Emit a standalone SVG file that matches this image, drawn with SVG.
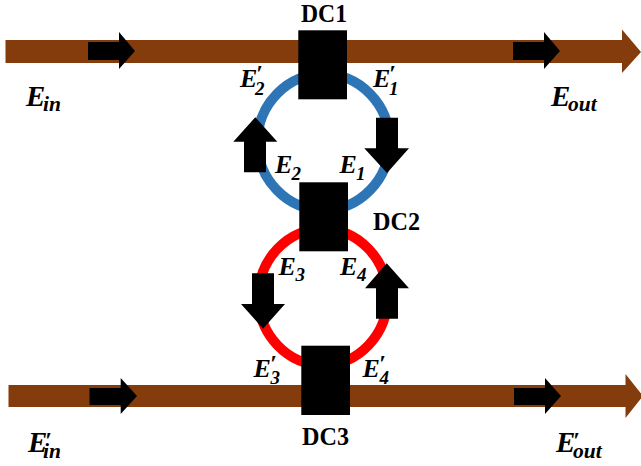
<svg xmlns="http://www.w3.org/2000/svg" width="641" height="466" viewBox="0 0 641 466">
<style>
text{font-family:"Liberation Serif","Times New Roman",serif;font-weight:bold;fill:#000}
.dc{font-size:25px}
.e{font-size:26px;font-style:italic}
.big{font-size:29px;font-style:italic}
.s{font-size:19px;font-style:italic}
.si{font-size:21.500px;font-style:italic}
.p{font-size:24px;font-style:italic}
.bar{fill:#843C0C}
.ring{fill:none;stroke-width:10}
.blk{fill:#000}
</style>
<rect width="641" height="466" fill="#fff"/>
<g id="connectors">
<path class="bar" d="M5.500 40H622V29.500L641 52L622 73V63H5.500Z"/>
<path class="bar" d="M8.500 385H625.500V374L643 396L625.500 418V407H8.500Z"/>
<ellipse class="ring" cx="323.500" cy="142" rx="66" ry="68" stroke="#2E75B6"/>
<ellipse class="ring" cx="323" cy="297" rx="64.500" ry="68" stroke="#FF0000"/>
<path class="blk" d="M88 42H119V32L135 51L119 69V60H88Z"/>
<path class="blk" d="M513 42H544V32L560 51L544 69V60H513Z"/>
<path class="blk" d="M89.500 388H120.700V378L137 396L120.700 414V405H89.500Z"/>
<path class="blk" d="M514 388H545V378L561 396L545 414V405H514Z"/>
<path class="blk" d="M244 172.300V141.700H233.300L255.300 117.300L277.300 141.700H266V172.300Z"/>
<path class="blk" d="M376 117.700V148.300H364.300L387 173L409 148.300H398V117.700Z"/>
<path class="blk" d="M252 273.300V304H241L263 328.700L285 304H274V273.300Z"/>
<path class="blk" d="M376 318.700V288.300H365L386.700 263.300L409 288.300H398V318.700Z"/>
</g>
<g id="DC1"><rect class="blk" x="298.300" y="30.300" width="48.700" height="69"/><text class="dc" x="301" y="21.700" textLength="46" lengthAdjust="spacingAndGlyphs">DC1</text></g>
<g id="DC2"><rect class="blk" x="299.300" y="182.300" width="48.700" height="69"/><text class="dc" x="373" y="230" textLength="47" lengthAdjust="spacingAndGlyphs">DC2</text></g>
<g id="DC3"><rect class="blk" x="301.300" y="345.700" width="48.700" height="69.300"/><text class="dc" x="302" y="445" textLength="47" lengthAdjust="spacingAndGlyphs">DC3</text></g>
<g id="labels">
<text><tspan class="big" x="26" y="106">E</tspan><tspan class="si" x="43" y="111">in</tspan></text>
<text><tspan class="big" x="551" y="106">E</tspan><tspan class="si" x="568" y="111">out</tspan></text>
<text><tspan class="big" x="28" y="452">E</tspan><tspan class="p" x="45" y="447.500">′</tspan><tspan class="si" x="43" y="458">in</tspan></text>
<text><tspan class="big" x="556" y="452">E</tspan><tspan class="p" x="573" y="447.500">′</tspan><tspan class="si" x="573" y="458">out</tspan></text>
<text><tspan class="e" x="240" y="87.300">E</tspan><tspan class="p" x="256" y="81">′</tspan><tspan class="s" x="255" y="94.500">2</tspan></text>
<text><tspan class="e" x="373" y="87.300">E</tspan><tspan class="p" x="389" y="81">′</tspan><tspan class="s" x="389" y="94.500">1</tspan></text>
<text><tspan class="e" x="275" y="173.300">E</tspan><tspan class="s" x="291.500" y="179.500">2</tspan></text>
<text><tspan class="e" x="339.500" y="173.300">E</tspan><tspan class="s" x="356" y="179.500">1</tspan></text>
<text><tspan class="e" x="278.500" y="275">E</tspan><tspan class="s" x="295.500" y="281">3</tspan></text>
<text><tspan class="e" x="340" y="275">E</tspan><tspan class="s" x="357" y="281">4</tspan></text>
<text><tspan class="e" x="253.500" y="377.300">E</tspan><tspan class="p" x="270" y="371">′</tspan><tspan class="s" x="270.500" y="383.800">3</tspan></text>
<text><tspan class="e" x="362.500" y="377.300">E</tspan><tspan class="p" x="379" y="371">′</tspan><tspan class="s" x="379.500" y="383.800">4</tspan></text>
</g>
</svg>
